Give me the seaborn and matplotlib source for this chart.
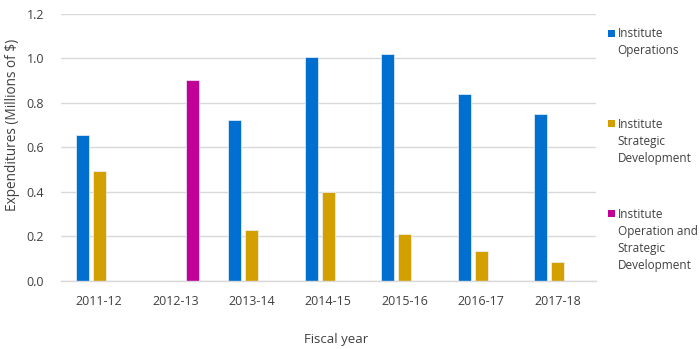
import matplotlib
matplotlib.use("Agg")
import matplotlib.pyplot as plt
import seaborn as sns
import pandas as pd
import numpy as np
from matplotlib.patches import Rectangle, Patch
from matplotlib.legend_handler import HandlerPatch

years = ["2011-12", "2012-13", "2013-14", "2014-15", "2015-16", "2016-17", "2017-18"]
series = ["Institute\nOperations",
          "Institute\nStrategic\nDevelopment",
          "Institute\nOperation and\nStrategic\nDevelopment"]
operations = [0.656, np.nan, 0.724, 1.005, 1.022, 0.840, 0.752]
strategic = [0.494, np.nan, 0.228, 0.399, 0.210, 0.133, 0.084]
combined = [np.nan, 0.903, np.nan, np.nan, np.nan, np.nan, np.nan]
colors = ["#006FCF", "#D4A000", "#C00096"]
yticks = [0.0, 0.2, 0.4, 0.6, 0.8, 1.0, 1.2]

sns.set_theme(style="white")
plt.rcParams["font.family"] = ["Open Sans", "DejaVu Sans"]
txt = "#404040"

rows = []
for s, vals in zip(series, [operations, strategic, combined]):
    for y, v in zip(years, vals):
        rows.append({"year": y, "series": s, "value": v})
df = pd.DataFrame(rows)

fig = plt.figure(figsize=(7.0, 3.49), dpi=100)
ax = fig.add_axes([0.087, 0.195, 0.764, 0.765])

sns.barplot(data=df, x="year", y="value", hue="series", hue_order=series,
            order=years, palette=colors, saturation=1, width=0.67, gap=0.24,
            edgecolor="#EEF3FA", linewidth=0.5, legend=False, ax=ax)

ax.set_ylim(0, 1.2)
ax.set_yticks(yticks)
ax.set_yticklabels([f"{t:.1f}" for t in yticks])
ax.set_xlim(-0.5, len(years) - 0.5)
ax.yaxis.grid(True, color="#D9D9D9", linewidth=1.0)
ax.set_axisbelow(True)
for sp in ["top", "right", "left"]:
    ax.spines[sp].set_visible(False)
ax.spines["bottom"].set_color("#D9D9D9")
ax.spines["bottom"].set_linewidth(1.0)
ax.tick_params(axis="both", length=0, labelsize=9, colors=txt, pad=10)
ax.tick_params(axis="y", pad=12)
ax.set_xlabel("Fiscal year", fontsize=9.5, color=txt)
ax.set_ylabel("Expenditures (Millions of $)", fontsize=9.8, color=txt)
ax.xaxis.set_label_coords(0.514, -0.196)
ax.yaxis.set_label_coords(-0.077, 0.585)


def top_square(legend, orig_handle, xdescent, ydescent, width, height, fontsize):
    s = 5.0
    yc = 28.6
    return Rectangle((0, yc - s / 2), s, s)


padded = [lab + "\n" * (5 - lab.count("\n") - 1) for lab in series]
handles = [Patch(facecolor=c, edgecolor="none") for c in colors]
leg = fig.legend(handles, padded, loc="upper left", bbox_to_anchor=(0.8615, 0.935),
                 frameon=False, fontsize=8.45, labelspacing=0.8, handlelength=0.6,
                 handletextpad=0.25, borderaxespad=0,
                 handler_map={Patch: HandlerPatch(patch_func=top_square)})
for t in leg.get_texts():
    t.set_color(txt)
    t.set_linespacing(1.40)

fig.savefig("out.png", dpi=100)
